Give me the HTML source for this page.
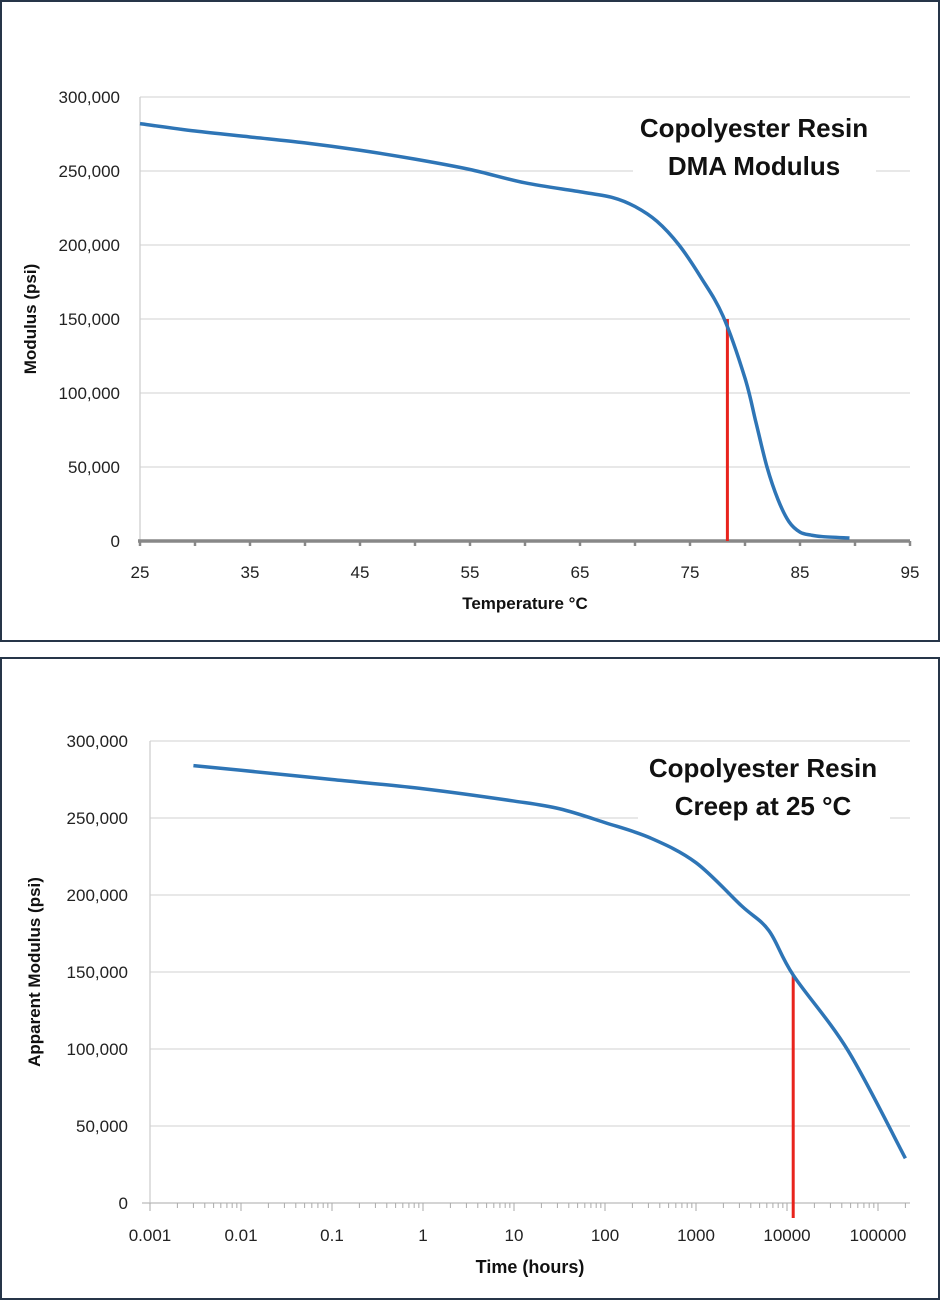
<!DOCTYPE html>
<html><head><meta charset="utf-8"><style>
body{margin:0;background:#fff;width:940px;height:1300px;overflow:hidden;font-family:"Liberation Sans",sans-serif}
.box{position:absolute;left:0;width:936px;border:2px solid #263548;background:#fff}
svg text{font-family:"Liberation Sans",sans-serif}
</style></head><body>
<div class="box" style="top:0;height:638px"></div>
<div class="box" style="top:657px;height:639px"></div>
<svg id="s" width="940" height="1300" style="position:absolute;left:0;top:0"></svg>
<script>
// Top chart data (Temperature °C, modulus psi)
const dmaTemps=[25,30,35,40,45,50,55,60,65,68,70,72,74,76,78,80,81,82,83,84,85,86,87,89.5];
const dmaModulus=[282000,277000,273000,269000,264000,258000,251000,242000,236000,232000,226000,216000,200000,178000,152000,110000,80000,50000,28000,13000,6000,4000,3000,2000];
const dmaXTicks=[25,35,45,55,65,75,85,95];
const yTicks=[0,50000,100000,150000,200000,250000,300000];
const dmaMarker=[78.4,150000];
// Bottom chart data (time hours, apparent modulus psi)
const creepTimes=[0.003,0.01,0.1,1,10,31.6,100,316,1000,3160,6300,11700,46800,200000];
const creepModulus=[284000,281000,275000,269000,261000,256000,247000,237000,221000,193000,177000,148000,99000,29000];
const creepXTicks=[0.001,0.01,0.1,1,10,100,1000,10000,100000];
const creepMarker=[11700,148000];

const NS='http://www.w3.org/2000/svg';const s=document.getElementById('s');
function el(t,a,txt){const e=document.createElementNS(NS,t);for(const k in a)e.setAttribute(k,a[k]);if(txt!==undefined)e.textContent=txt;s.appendChild(e);return e;}
const fmt=v=>v.toLocaleString('en-US');

// ---- top chart
const tx=v=>140+(v-25)*11, ty=v=>541-v*0.00148;
yTicks.forEach(v=>{if(v>0){const g=el('line',{x1:140,x2:910,y1:ty(v),y2:ty(v),stroke:'#d9d9d9','stroke-width':1.3});
}
const t=el('text',{x:120,y:ty(v)+6,'text-anchor':'end','font-size':17,fill:'#222'},fmt(v));
});
el('line',{x1:140,x2:140,y1:97,y2:541,stroke:'#d0d0d0','stroke-width':1.3});
let ax=el('line',{x1:138,x2:910,y1:541,y2:541,stroke:'#888','stroke-width':3.5});

for(let v=25;v<=95;v+=5){el('line',{x1:tx(v),x2:tx(v),y1:541,y2:546,stroke:'#888','stroke-width':2.5});}
dmaXTicks.forEach(v=>{const t=el('text',{x:tx(v),y:578,'text-anchor':'middle','font-size':17,fill:'#222'},String(v));
});
let at=el('text',{x:525,y:609,'text-anchor':'middle','font-size':17,'font-weight':'bold',fill:'#111'},'Temperature °C');

at=el('text',{x:36,y:319,'text-anchor':'middle','font-size':17,'font-weight':'bold',fill:'#111',transform:'rotate(-90 36 319)'},'Modulus (psi)');

el('rect',{x:633,y:108,width:243,height:80,fill:'#fff'});
at=el('text',{x:754,y:137,'text-anchor':'middle','font-size':26,'font-weight':'bold',fill:'#111'},'Copolyester Resin');

at=el('text',{x:754,y:175,'text-anchor':'middle','font-size':26,'font-weight':'bold',fill:'#111'},'DMA Modulus');

function smooth(pts){let d='M'+pts[0][0]+','+pts[0][1];for(let i=0;i<pts.length-1;i++){const p0=pts[i-1]||pts[i],p1=pts[i],p2=pts[i+1],p3=pts[i+2]||p2;
d+=' C'+(p1[0]+(p2[0]-p0[0])/6)+','+(p1[1]+(p2[1]-p0[1])/6)+' '+(p2[0]-(p3[0]-p1[0])/6)+','+(p2[1]-(p3[1]-p1[1])/6)+' '+p2[0]+','+p2[1];}return d;}
let ln=el('line',{x1:tx(dmaMarker[0]),x2:tx(dmaMarker[0]),y1:ty(0),y2:ty(dmaMarker[1]),stroke:'#e8231c','stroke-width':3});

let p=el('path',{d:smooth(dmaTemps.map((t,i)=>[tx(t),ty(dmaModulus[i])])),fill:'none',stroke:'#2e75b6','stroke-width':3.5});


// ---- bottom chart
const bx=v=>150+(Math.log10(v)+3)*91, by=v=>1203-v*0.00154;
yTicks.forEach(v=>{if(v>0){const g=el('line',{x1:150,x2:910,y1:by(v),y2:by(v),stroke:'#d9d9d9','stroke-width':1.3});
}
const t=el('text',{x:128,y:by(v)+6,'text-anchor':'end','font-size':17,fill:'#222'},fmt(v));
});
el('line',{x1:150,x2:150,y1:741,y2:1203,stroke:'#d0d0d0','stroke-width':1.3});
ax=el('line',{x1:142,x2:910,y1:1203,y2:1203,stroke:'#bbb','stroke-width':1.3});

for(let d=-3;d<=5;d++){for(let m=1;m<=9;m++){const v=m*Math.pow(10,d);if(bx(v)>910)break;
el('line',{x1:bx(v),x2:bx(v),y1:1203,y2:m==1?1211:1208,stroke:'#aaa','stroke-width':1});}}
creepXTicks.forEach(v=>{const t=el('text',{x:bx(v),y:1241,'text-anchor':'middle','font-size':17,fill:'#222'},String(v));
});
at=el('text',{x:530,y:1273,'text-anchor':'middle','font-size':18,'font-weight':'bold',fill:'#111'},'Time (hours)');

at=el('text',{x:40,y:972,'text-anchor':'middle','font-size':17,'font-weight':'bold',fill:'#111',transform:'rotate(-90 40 972)'},'Apparent Modulus (psi)');

el('rect',{x:638,y:750,width:252,height:78,fill:'#fff'});
at=el('text',{x:763,y:777,'text-anchor':'middle','font-size':26,'font-weight':'bold',fill:'#111'},'Copolyester Resin');

at=el('text',{x:763,y:815,'text-anchor':'middle','font-size':26,'font-weight':'bold',fill:'#111'},'Creep at 25 °C');

ln=el('line',{x1:bx(creepMarker[0]),x2:bx(creepMarker[0]),y1:1218,y2:by(creepMarker[1]),stroke:'#e8231c','stroke-width':3});

p=el('path',{d:smooth(creepTimes.map((t,i)=>[bx(t),by(creepModulus[i])])),fill:'none',stroke:'#2e75b6','stroke-width':3.5});

</script>
</body></html>
